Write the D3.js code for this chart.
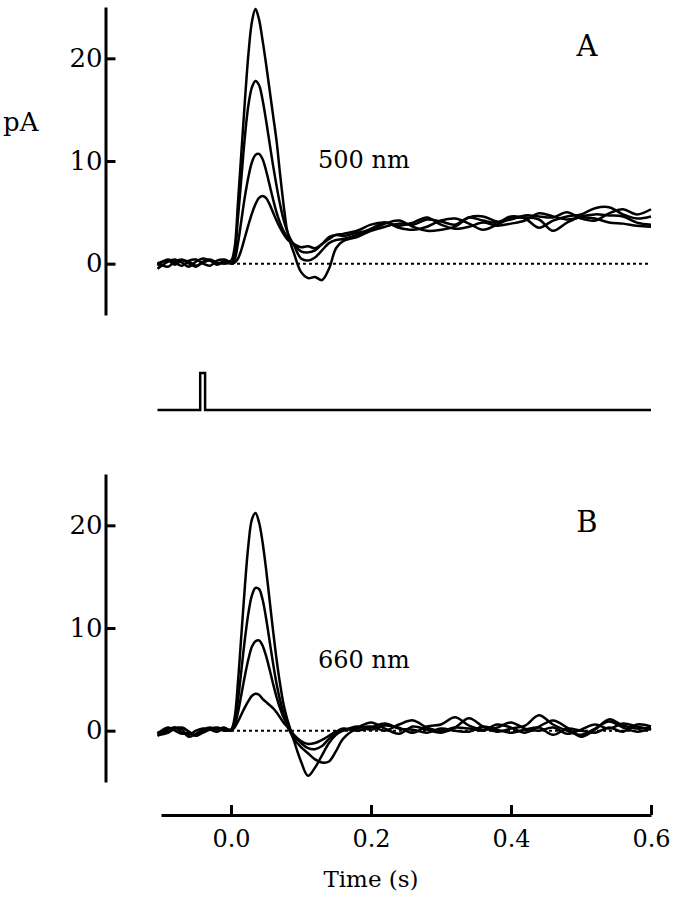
<!DOCTYPE html>
<html>
<head>
<meta charset="utf-8">
<script src="https://cdn.jsdelivr.net/npm/d3@7"></script>
<style>
  body { margin: 0; background: #fff; }
  text { font-family: "DejaVu Serif", serif; fill: #000; }
</style>
</head>
<body>
<div id="chart"></div>
<script>
// Time points (s) shared by all traces
var times = [-0.105, -0.09, -0.08, -0.07, -0.06, -0.05, -0.04, -0.03, -0.02, -0.01, 0,
  0.005, 0.01, 0.015, 0.02, 0.025, 0.03, 0.035, 0.04, 0.045, 0.05, 0.055, 0.06, 0.065, 0.07, 0.075, 0.08, 0.085, 0.09,
  0.1, 0.11, 0.12, 0.13, 0.14, 0.15, 0.16,
  0.18, 0.2, 0.22, 0.24, 0.26, 0.28, 0.3, 0.32, 0.34, 0.36, 0.38, 0.4, 0.42, 0.44, 0.46, 0.48, 0.5, 0.52, 0.54, 0.56, 0.58, 0.6];

// Panel A, 500 nm (pA)
var a1 = [-0.5, 0.2, 0.4, 0.1, -0.3, 0.2, 0.5, 0.3, -0.1, 0.2, 0.3,
  1.5, 6.0, 11.0, 16.0, 20.5, 23.6, 24.8, 23.8, 21.8, 19.5, 17.0, 14.5, 12.0, 8.8, 5.8, 3.3, 2.0, 1.0,
  -0.8, -1.4, -1.3, -1.6, -0.5, 1.5, 2.2,
  2.6, 3.2, 3.6, 3.9, 3.8, 4.3, 4.1, 3.8, 4.5, 4.2, 4.0, 4.6, 4.4, 3.5, 4.2, 4.6, 4.8, 5.4, 5.5, 4.8, 4.4, 4.6];
var a2 = [-0.2, 0.4, 0.1, -0.2, 0.3, 0.4, 0.0, -0.2, 0.3, 0.4, 0.2,
  1.0, 4.5, 8.5, 12.5, 15.5, 17.2, 17.8, 17.4, 16.0, 14.0, 11.8, 9.6, 7.6, 5.8, 4.3, 3.2, 2.4, 1.8,
  0.5, 0.3, 0.6, 1.3, 2.0, 2.3, 2.4,
  2.8, 3.4, 4.0, 3.5, 3.3, 3.6, 4.2, 4.4, 3.9, 3.3, 3.8, 4.4, 4.5, 4.3, 3.2, 4.0, 4.6, 4.8, 4.7, 4.6, 4.0, 3.8];
var a3 = [0.1, -0.3, 0.2, 0.4, 0.0, -0.3, 0.2, 0.4, 0.1, 0.0, 0.1,
  0.4, 2.0, 4.3, 6.6, 8.5, 9.9, 10.6, 10.7, 10.2, 9.1, 7.7, 6.3, 5.0, 4.0, 3.2, 2.6, 2.2, 1.9,
  1.2, 1.1, 1.3, 1.9, 2.6, 2.8, 2.7,
  3.0, 3.3, 3.9, 4.2, 3.6, 3.2, 3.3, 3.6, 4.5, 4.6, 4.1, 4.3, 4.7, 4.6, 4.5, 5.0, 4.4, 4.2, 4.9, 5.3, 4.8, 5.3];
var a4 = [0.0, 0.3, -0.1, 0.3, 0.2, -0.2, 0.1, 0.3, 0.0, 0.2, 0.0,
  0.1, 0.5, 1.4, 2.6, 3.8, 4.9, 5.8, 6.4, 6.6, 6.4, 5.8, 5.0, 4.2, 3.5, 2.9, 2.4, 2.1, 1.9,
  1.6, 1.7, 1.5, 1.9, 2.4, 2.8, 2.9,
  3.2, 3.8, 4.0, 3.7, 4.0, 4.5, 3.8, 3.4, 3.6, 4.0, 3.7, 3.9, 4.2, 4.9, 4.6, 4.3, 4.5, 4.4, 4.0, 3.9, 3.7, 3.6];

// Panel B, 660 nm (pA)
var b1 = [-0.4, -0.2, 0.2, 0.3, -0.1, -0.5, -0.2, 0.1, 0.2, 0.0, 0.1,
  1.2, 4.8, 9.5, 14.2, 18.2, 20.6, 21.2, 20.3, 18.4, 15.8, 12.8, 9.8, 7.0, 4.6, 2.6, 1.2, 0.1, -1.0,
  -3.0, -4.4, -3.6, -2.4, -1.2, -0.4, 0.0,
  0.3, 0.8, 0.2, -0.3, 0.4, 0.1, -0.2, 0.3, 1.2, 0.4, -0.1, 0.2, 0.5, 1.5, 0.6, 0.0, -0.4, 0.2, 0.9, 0.3, -0.1, 0.2];
var b2 = [-0.2, 0.1, 0.3, -0.2, -0.4, 0.0, 0.2, 0.1, -0.1, 0.2, 0.1,
  0.8, 3.0, 6.0, 9.0, 11.5, 13.2, 13.9, 13.8, 12.8, 11.0, 8.8, 6.6, 4.6, 3.0, 1.7, 0.6, -0.2, -0.8,
  -1.6, -2.2, -2.8, -3.1, -3.0, -2.0, -0.8,
  0.2, 0.4, 0.0, 0.6, 1.0, 0.3, 0.0, 0.3, 0.2, 0.0, 0.6, 0.3, -0.2, 0.4, 1.0, 0.3, -0.6, 0.1, 1.1, 0.5, 0.2, 0.3];
var b3 = [-0.5, 0.0, 0.3, 0.1, -0.6, -0.3, 0.1, 0.3, 0.1, 0.3, 0.0,
  0.5, 1.8, 3.6, 5.4, 7.0, 8.2, 8.7, 8.8, 8.3, 7.3, 6.0, 4.6, 3.3, 2.2, 1.3, 0.6, 0.0, -0.5,
  -1.2, -1.7, -1.8, -1.5, -0.8, -0.3, 0.0,
  0.4, 0.1, 0.5, 0.3, -0.2, 0.4, 0.6, 1.3, 0.5, 0.1, 0.3, 0.8, 0.2, 0.0, 0.3, -0.3, 0.1, 0.6, 0.2, 0.7, 0.4, 0.1];
var b4 = [-0.3, 0.3, 0.0, -0.3, -0.2, -0.5, 0.0, 0.2, 0.3, 0.1, 0.0,
  0.3, 0.9, 1.6, 2.3, 2.9, 3.4, 3.6, 3.5, 3.1, 2.8, 2.5, 2.2, 1.8, 1.3, 0.8, 0.4, 0.0, -0.4,
  -1.0, -1.3, -1.2, -0.9, -0.5, -0.1, 0.2,
  0.0, 0.3, 0.7, 0.2, 0.1, -0.2, 0.2, 0.0, -0.1, 0.4, 0.1, -0.2, 0.1, 0.3, -0.4, 0.2, 0.0, -0.2, 0.3, -0.1, 0.6, 0.4];

// Stimulus trace (relative level)
var stimTimes = [-0.105, -0.044, -0.044, -0.037, -0.037, 0.6];
var stimLevels = [0, 0, 1, 1, 0, 0];

// Axis ticks
var yTicks = [0, 10, 20];
var xTicks = [0.0, 0.2, 0.4, 0.6];

var width = 673, height = 900;

var svg = d3.select("#chart")
  .append("svg")
    .attr("width", width)
    .attr("height", height);

svg.append("rect").attr("width", width).attr("height", height).attr("fill", "#fff");

// Shared time scale
var x = d3.scaleLinear()
  .domain([-0.1, 0.6])
  .range([161, 651]);

// Draw one panel: y axis, zero line, traces
function drawPanel(traces, top, bottom, label, labelY, waveText, waveY) {
  var y = d3.scaleLinear()
    .domain([-5, 25])
    .range([bottom, top]);

  var axis = svg.append("g")
    .attr("transform", "translate(105.5,0)")
    .call(d3.axisLeft(y).tickValues(yTicks).tickSizeInner(-10).tickSizeOuter(0).tickPadding(3));
  axis.select(".domain").attr("stroke-width", 3);
  axis.selectAll(".tick line").attr("stroke-width", 3);
  axis.selectAll(".tick text")
    .style("font-size", "26px")
    .attr("font-family", null);

  // Dotted zero line
  svg.append("line")
    .attr("x1", x(0))
    .attr("x2", x(0.6))
    .attr("y1", y(0))
    .attr("y2", y(0))
    .attr("stroke", "#000")
    .attr("stroke-width", 2)
    .attr("stroke-dasharray", "3,3");

  var line = d3.line()
    .x(function(d, i) { return x(times[i]); })
    .y(function(d) { return y(d); })
    .curve(d3.curveCatmullRom.alpha(0.5));

  traces.forEach(function(tr) {
    svg.append("path")
      .datum(tr)
      .attr("fill", "none")
      .attr("stroke", "#000")
      .attr("stroke-width", 2.5)
      .attr("stroke-linejoin", "round")
      .attr("d", line);
  });

  svg.append("text")
    .attr("x", 587)
    .attr("y", labelY)
    .attr("text-anchor", "middle")
    .style("font-size", "29px")
    .text(label);

  svg.append("text")
    .attr("x", 318)
    .attr("y", waveY)
    .style("font-size", "24px")
    .text(waveText);

  return y;
}

drawPanel([a1, a2, a3, a4], 7, 315, "A", 56, "500 nm", 168);
drawPanel([b1, b2, b3, b4], 474, 782, "B", 532, "660 nm", 668);

// pA unit label
svg.append("text")
  .attr("x", 3)
  .attr("y", 131)
  .style("font-size", "26px")
  .text("pA");

// Stimulus marker
var ys = d3.scaleLinear().domain([0, 1]).range([410, 373]);
svg.append("path")
  .datum(stimLevels)
  .attr("fill", "none")
  .attr("stroke", "#000")
  .attr("stroke-width", 2.5)
  .attr("d", d3.line()
    .x(function(d, i) { return x(stimTimes[i]); })
    .y(function(d) { return ys(d); })
  );

// Time axis at the bottom
var xAxis = svg.append("g")
  .attr("transform", "translate(0,815)")
  .call(d3.axisBottom(x).tickValues(xTicks).tickFormat(d3.format(".1f")).tickSizeInner(-10).tickSizeOuter(0).tickPadding(15));
xAxis.select(".domain").attr("stroke-width", 3);
xAxis.selectAll(".tick line").attr("stroke-width", 3);
xAxis.selectAll(".tick text")
  .style("font-size", "24px")
  .attr("font-family", null);

svg.append("text")
  .attr("x", 371)
  .attr("y", 887)
  .attr("text-anchor", "middle")
  .style("font-size", "23px")
  .text("Time (s)");
</script>
</body>
</html>
